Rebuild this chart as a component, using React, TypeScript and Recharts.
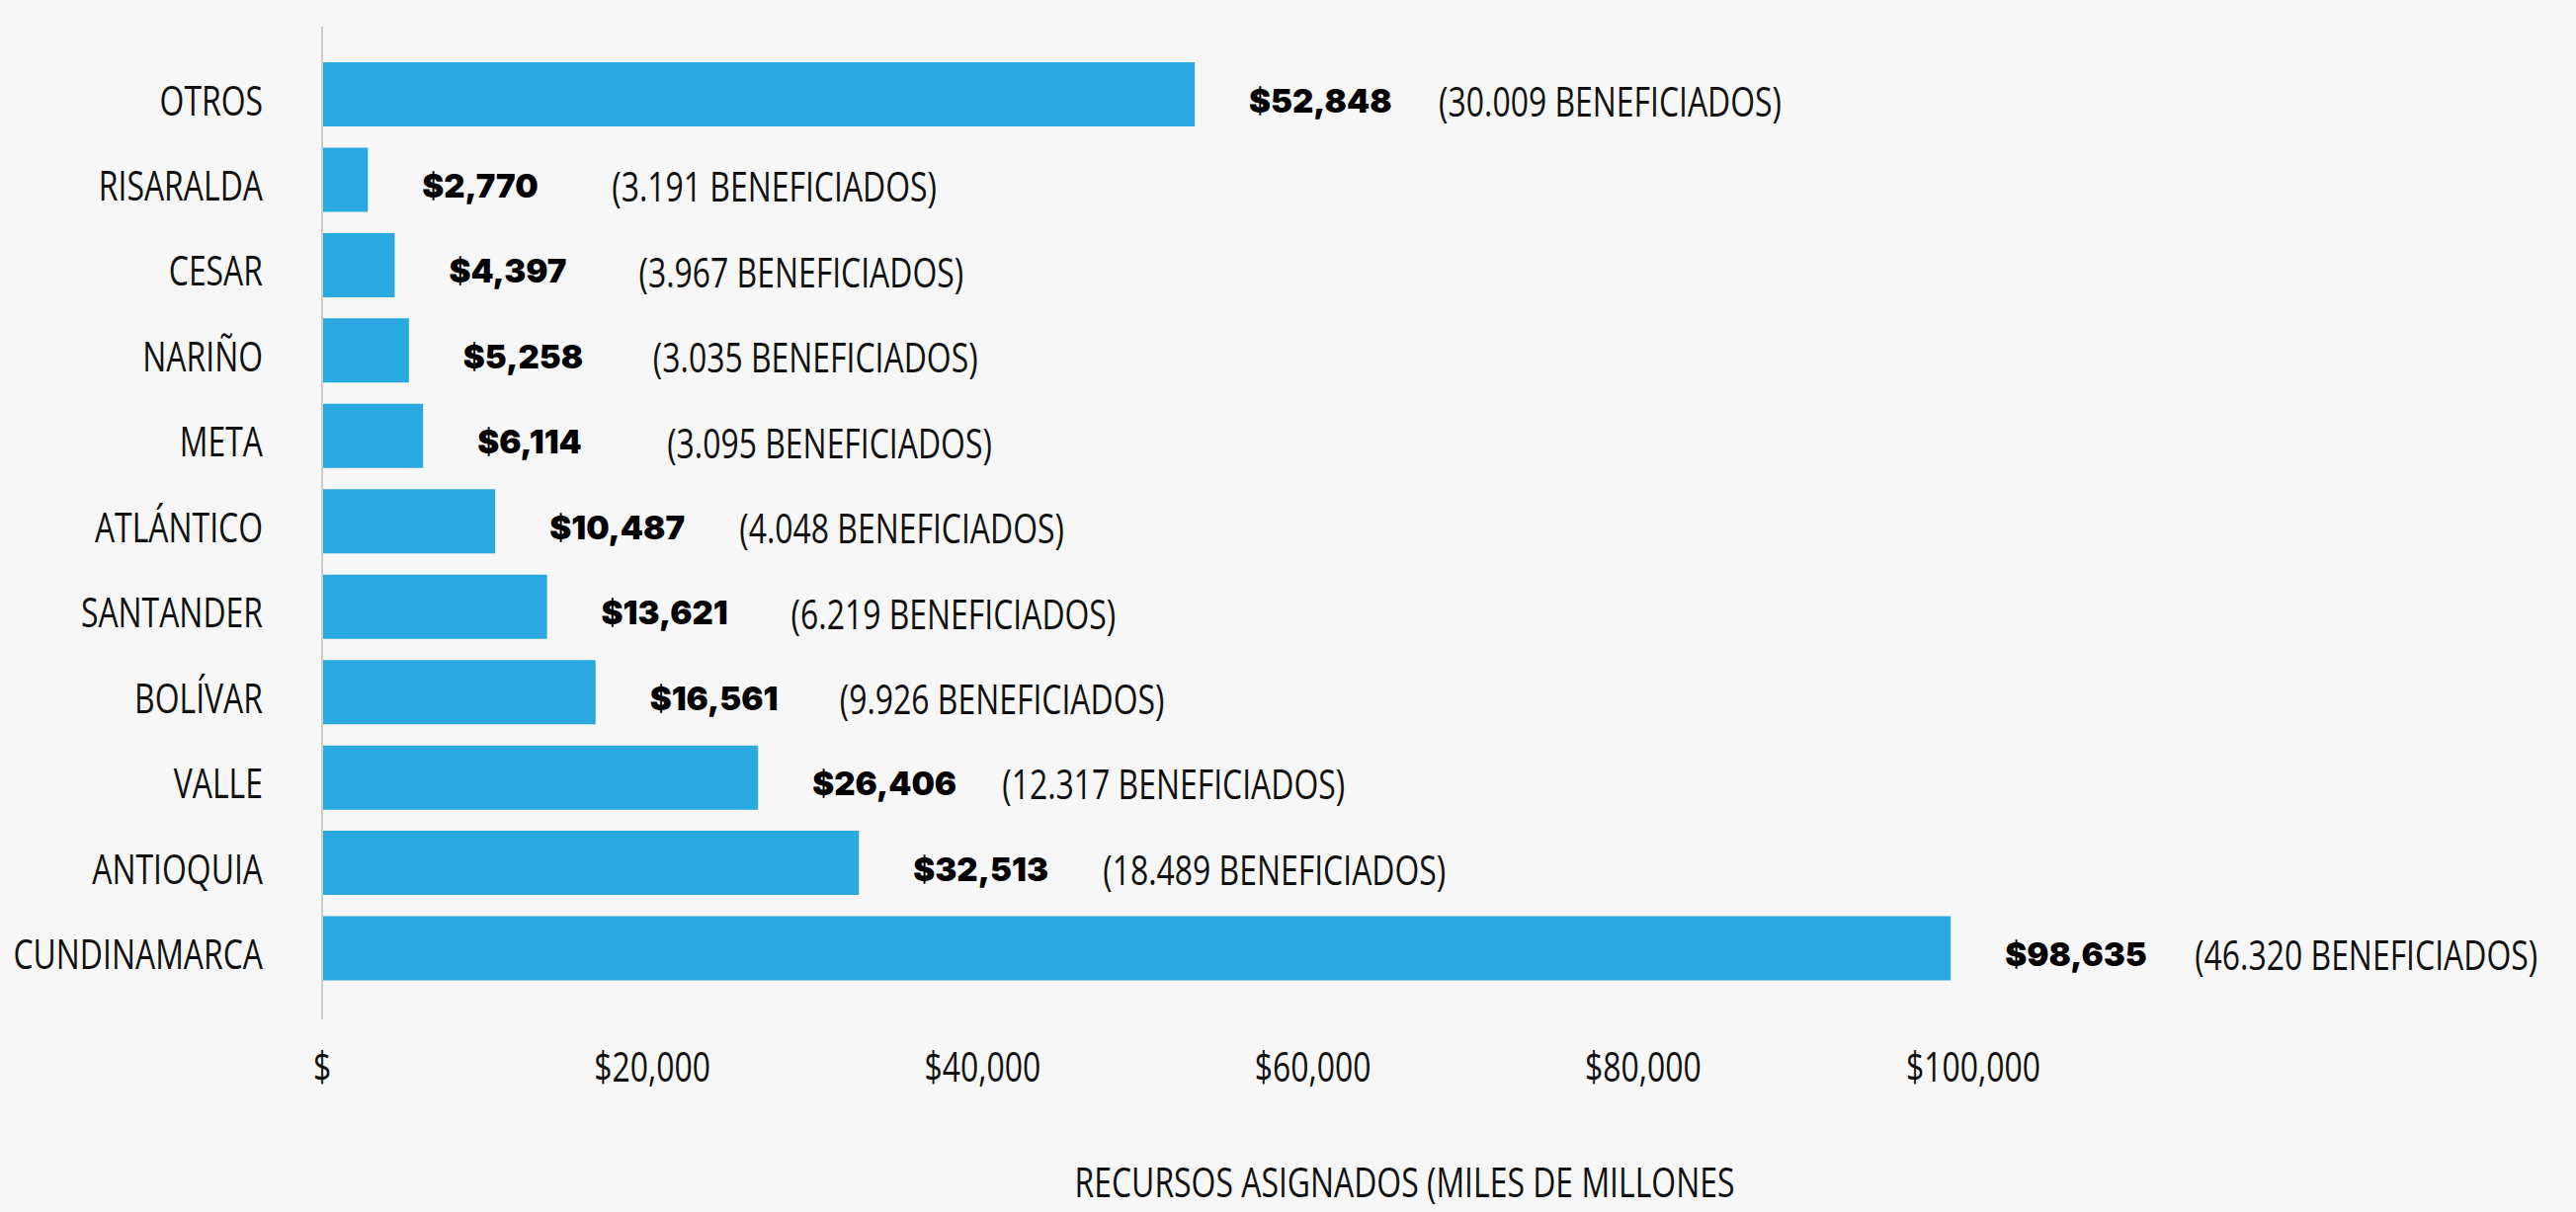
import React from 'react';
import { BarChart, Bar, XAxis, YAxis, LabelList, Label } from 'recharts';

const categories = ['OTROS', 'RISARALDA', 'CESAR', 'NARIÑO', 'META', 'ATLÁNTICO', 'SANTANDER', 'BOLÍVAR', 'VALLE', 'ANTIOQUIA', 'CUNDINAMARCA'];
const recursos = [52848, 2770, 4397, 5258, 6114, 10487, 13621, 16561, 26406, 32513, 98635];
const beneficiados = [30009, 3191, 3967, 3035, 3095, 4048, 6219, 9926, 12317, 18489, 46320];
const xTicks = [0, 20000, 40000, 60000, 80000, 100000];
const axisTitle = 'RECURSOS ASIGNADOS (MILES DE MILLONES';

const data = categories.map((name, i) => ({ name, value: recursos[i], ben: beneficiados[i] }));

const group = (n: number, sep: string) => n.toString().replace(/\B(?=(\d{3})+(?!\d))/g, sep);
const fmtTick = (v: number) => (v === 0 ? '$' : '$' + group(v, ','));

const COND = "'Open Sans', sans-serif";
const BOLD = "'Inter', 'Roboto', sans-serif";
const FS = 42;
const SX = 0.76;

const CondText = ({ x, y, anchor, children, dy = 0, baseline = 'central' }: any) => (
  <text
    transform={`translate(${x},${y}) scale(${SX},1)`}
    x={0}
    y={0}
    dy={dy}
    textAnchor={anchor}
    dominantBaseline={baseline}
    fontFamily={COND}
    fontSize={FS}
    fill="#111"
  >
    {children}
  </text>
);

const YTick = (props: any) => {
  const { x, y, payload } = props;
  return <CondText x={x} y={y + 5} anchor="end">{payload.value}</CondText>;
};

const XTick = (props: any) => {
  const { x, y, payload } = props;
  return <CondText x={x} y={y} anchor="middle" dy="0.75em" baseline="auto">{fmtTick(payload.value)}</CondText>;
};

const ValueLabel = (props: any) => {
  const { x, y, width, height, value } = props;
  return (
    <text x={x + width + 55} y={y + height / 2 + 6} dominantBaseline="central" fontFamily={BOLD} fontWeight={900} fontSize={33} fill="#000">
      {'$' + group(value, ',')}
    </text>
  );
};

const BenLabel = (props: any) => {
  const { x, y, width, height, value } = props;
  return <CondText x={x + width + 247} y={y + height / 2 + 6} anchor="start">{'(' + group(value, '.') + ' BENEFICIADOS)'}</CondText>;
};

const TitleLabel = (props: any) => {
  const { viewBox } = props;
  return <CondText x={viewBox.x + viewBox.width / 2 + 260} y={viewBox.y + viewBox.height - 31} anchor="middle">{axisTitle}</CondText>;
};

export default function App() {
  return (
    <div style={{ position: 'absolute', left: 0, top: 0, width: 2607, height: 1227, background: '#f7f7f7' }}>
      <BarChart
        width={2607}
        height={1227}
        data={data}
        layout="vertical"
        margin={{ top: 27, right: 610, bottom: 0, left: 0 }}
      >
        <XAxis
          type="number"
          domain={[0, 100000]}
          ticks={xTicks}
          axisLine={false}
          tickLine={false}
          tickSize={0}
          tickMargin={31}
          height={195}
          tick={<XTick />}
          interval={0}
        >
          <Label content={<TitleLabel />} />
        </XAxis>
        <YAxis
          type="category"
          dataKey="name"
          width={326}
          axisLine={{ stroke: '#cccccc', strokeWidth: 2 }}
          tickLine={false}
          tickSize={0}
          tickMargin={60}
          tick={<YTick />}
          interval={0}
          padding={{ top: 25, bottom: 29 }}
        />
        <Bar dataKey="value" fill="#29a9e0" barSize={65} isAnimationActive={false}>
          <LabelList dataKey="value" content={<ValueLabel />} />
          <LabelList dataKey="ben" content={<BenLabel />} />
        </Bar>
      </BarChart>
    </div>
  );
}
